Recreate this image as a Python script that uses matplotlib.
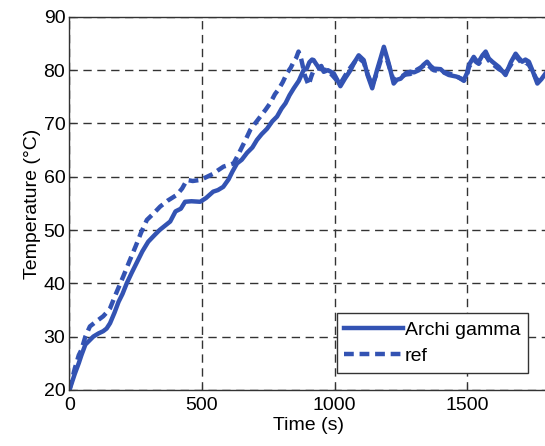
import matplotlib
matplotlib.use("Agg")
import matplotlib.pyplot as plt

# Archi gamma (solid)
t_archi = [0, 10, 20, 35, 45, 60, 70, 90, 110, 127, 140, 153, 170, 185, 200, 216, 235, 255,
           275, 297, 320, 340, 360, 380, 400, 420, 436, 460, 493, 515, 542, 560, 580,
           600, 615, 632, 650, 670, 690, 707, 725, 745, 765, 783, 800, 815, 830, 846, 865,
           883, 895, 905, 915, 921, 930, 940, 950, 959, 975, 997, 1010, 1022, 1040, 1060,
           1075, 1091, 1110, 1125, 1142, 1160, 1175, 1186, 1204, 1223, 1235, 1249, 1270, 1286,
           1300, 1318, 1335, 1349, 1362, 1374, 1400, 1415, 1431, 1460, 1488, 1500, 1507,
           1525, 1535, 1544, 1558, 1570, 1582, 1595, 1620, 1645, 1665, 1683, 1695, 1708,
           1720, 1733, 1750, 1765, 1780, 1796]
T_archi = [20, 21.5, 23, 25, 26.5, 28.5, 29, 30, 30.6, 31, 31.5, 32.5, 34.5, 36.5, 38, 40, 42, 44,
           46, 47.8, 49, 50, 50.8, 51.6, 53.5, 54, 55.3, 55.4, 55.3, 56, 57.2, 57.5, 58.1,
           59.5, 61, 62.5, 63.2, 64.5, 65.5, 66.9, 68, 69, 70.4, 71.3, 72.8, 73.8, 75.3, 76.6, 78,
           80, 80.3, 81.5, 82, 81.9, 81.2, 80.5, 80.8, 79.7, 80, 79.4, 78.2, 77.0, 78.5, 80,
           81.5, 82.8, 81.9, 79, 76.6, 80, 82.5, 84.4, 81.3, 77.5, 78.2, 78.4, 79.5, 79.7,
           79.6, 80, 81, 81.6, 80.8, 80.3, 80.2, 79.5, 79.1, 78.8, 78.2, 79.5, 81,
           82.5, 81.8, 81.6, 82.8, 83.5, 82.2, 81.6, 80.6, 79.1, 81.5, 83.1, 82.3, 81.6,
           82, 81.6, 79.5, 77.5, 78.3, 79.4]

# ref (dashed)
t_ref = [0, 10, 20, 35, 45, 60, 77, 100, 127, 140, 153, 175, 203, 225, 250, 270, 292, 315,
         342, 370, 405, 425, 443, 465, 493, 515, 540, 560, 581, 600, 619, 635, 650,
         665, 682, 700, 720, 740, 757, 775, 790, 805, 820, 835, 845, 855, 864, 870, 875,
         888, 902, 912, 921, 935, 945, 960, 972, 985, 996, 1010, 1022, 1040, 1060,
         1075, 1091, 1110, 1125, 1142, 1160, 1175, 1186, 1204, 1223, 1235, 1249, 1270, 1286,
         1300, 1318, 1335, 1349, 1362, 1374, 1400, 1415, 1431, 1460, 1488, 1500, 1507,
         1525, 1535, 1544, 1558, 1570, 1582, 1595, 1620, 1645, 1665, 1683, 1695, 1708,
         1720, 1733, 1750, 1765, 1780, 1796]
T_ref = [20, 22, 24, 26.5, 27.5, 30, 31.9, 32.8, 33.8, 34.5, 35.3, 38, 41.3, 44, 47, 49.5, 51.9, 53,
         54.4, 55.5, 56.6, 57.8, 59.4, 59.2, 59.4, 59.9, 60.5, 61.2, 61.9, 62.2, 62.5, 64, 65.5,
         67, 68.8, 70, 71.3, 72.6, 73.8, 75.5, 76.5, 77.8, 79.4, 80.5, 81.5, 82.3, 83.5, 82.8, 81.9,
         79, 77.2, 78.8, 80, 80.3, 80.3, 80.1, 80, 79.4, 78.8, 78, 77.5, 79, 80.5,
         81.5, 82.3, 81.5, 79.2, 77.2, 79.5, 82, 83.8, 81.0, 78.0, 78.5, 78.8, 79.2, 79.3,
         79.8, 80.3, 80.8, 81.2, 80.5, 80.0, 79.8, 79.6, 79.4, 78.9, 78.0, 79.2, 80.6,
         82.0, 81.5, 81.2, 82.2, 82.8, 81.8, 81.2, 80.2, 79.5, 81.0, 82.6, 82.0, 81.2,
         81.5, 81.0, 79.5, 78.0, 78.5, 79.0]

x_ticks = [0, 500, 1000, 1500]
y_ticks = [20, 30, 40, 50, 60, 70, 80, 90]

plt.rcParams['font.family'] = ['Liberation Sans', 'DejaVu Sans']

fig = plt.figure(figsize=(5.45, 4.46), dpi=100)
ax = fig.add_axes([0.1275, 0.126, 0.8755, 0.836])

color = '#3353b3'
ax.plot(t_archi, T_archi, '-', color=color, lw=3.2, label='Archi gamma')
ax.plot(t_ref, T_ref, '--', color=color, lw=3.2, label='ref', dashes=(2.2, 1.3))

ax.set_xlim(0, 1800)
ax.set_ylim(20, 90)
ax.set_xticks(x_ticks)
ax.set_yticks(y_ticks)
ax.grid(True, color='#333333', linestyle=(0, (6, 4)), lw=1)
ax.tick_params(direction='in', labelsize=14, length=4, color='#333333')
ax.tick_params(axis='x', pad=5)
ax.tick_params(axis='y', pad=3)
for s in ax.spines.values():
    s.set_color('#333333')
    s.set_linewidth(1)

ax.set_xlabel('Time (s)', fontsize=14, labelpad=2)
ax.set_ylabel('Temperature (°C)', fontsize=14, labelpad=2)

leg = ax.legend(loc='lower right', bbox_to_anchor=(0.961, 0.046), fontsize=14,
                fancybox=False, framealpha=1, edgecolor='#333333', handlelength=3.0,
                borderpad=0.4, labelspacing=0.45, handletextpad=0.1, borderaxespad=0)
leg.get_frame().set_linewidth(1)

fig.savefig('out.png', dpi=100)
